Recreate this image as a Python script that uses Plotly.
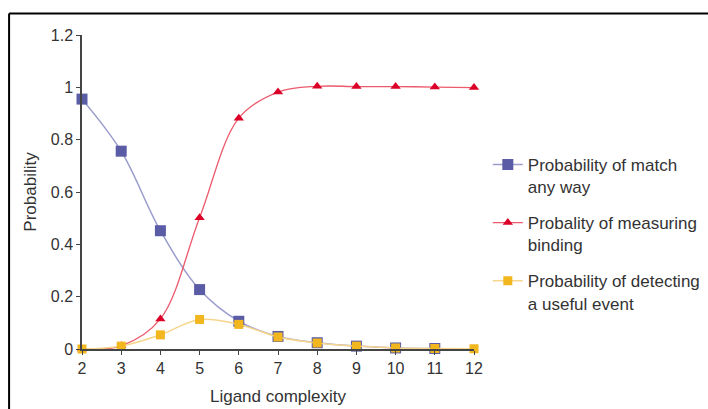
import plotly.graph_objects as go

complexity = [2, 3, 4, 5, 6, 7, 8, 9, 10, 11, 12]
match_x = [2, 3, 4, 5, 6, 7, 8, 9, 10, 11]
match_any_way = [0.955, 0.756, 0.452, 0.227, 0.106, 0.048, 0.024, 0.011, 0.004, 0.002]
measuring_binding = [0.0, 0.012, 0.115, 0.502, 0.882, 0.982, 1.004, 1.003, 1.003, 1.001, 0.999]
useful_event = [0.0, 0.011, 0.054, 0.113, 0.094, 0.046, 0.023, 0.011, 0.004, 0.002, 0.001]
names = ["Probability of match<br>any way", "Probality of measuring<br>binding",
         "Probability of detecting<br>a useful event"]

fig = go.Figure()
fig.add_trace(go.Scatter(
    x=match_x, y=match_any_way, name=names[0], mode="lines+markers", legendgroup="a",
    line=dict(color="#9a9ccc", width=1.5, shape="spline", smoothing=1.0),
    marker=dict(symbol="square", size=11, color="#5a5ca6", line=dict(width=0)),
    cliponaxis=False))
fig.add_trace(go.Scatter(
    x=complexity, y=measuring_binding, name=names[1], mode="lines+markers", legendgroup="b",
    line=dict(color="#ec5a6c", width=1.3, shape="spline", smoothing=1.0),
    marker=dict(symbol="triangle-up", size=9, color="#dc0028", line=dict(width=0)),
    cliponaxis=False))
fig.add_trace(go.Scatter(
    x=complexity, y=useful_event, name=names[2], mode="lines+markers", legendgroup="c",
    line=dict(color="#f6d58c", width=1.5, shape="spline", smoothing=1.0),
    marker=dict(symbol="square", size=9, color="#f2b61e", line=dict(width=0)),
    cliponaxis=False))

fig.update_layout(
    width=708, height=409,
    margin=dict(l=82, r=234, t=34.6, b=60, autoexpand=False),
    paper_bgcolor="white", plot_bgcolor="white",
    font=dict(family="Liberation Sans, Arial, sans-serif", size=16, color="#333333"),
    showlegend=True,
    legend=dict(xref="container", yref="container", x=0.689, xanchor="left",
                y=0.641, yanchor="top", valign="top",
                tracegroupgap=11, font=dict(size=17, color="#333333"),
                bgcolor="rgba(0,0,0,0)"),
    xaxis=dict(range=[2, 12], tickvals=complexity, showgrid=False, zeroline=False,
               automargin=False,
               showline=True, linecolor="#444444", linewidth=1.5,
               ticks="outside", ticklen=4, tickcolor="#444444",
               title=dict(text="Ligand complexity", standoff=14, font=dict(size=17)),
               tickfont=dict(size=16)),
    yaxis=dict(range=[0, 1.2], dtick=0.2, showgrid=False, zeroline=False,
               automargin=False,
               showline=True, linecolor="#444444", linewidth=1.5,
               ticks="outside", ticklen=4, tickcolor="#444444",
               title=dict(text="Probability", standoff=10, font=dict(size=17)),
               tickfont=dict(size=16)),
    shapes=[
        dict(type="line", xref="paper", yref="paper", x0=-0.186, x1=1.61,
             y0=1.0687, y1=1.0687, line=dict(color="black", width=2)),
        dict(type="line", xref="paper", yref="paper", x0=-0.186, x1=-0.186,
             y0=1.0687, y1=-0.2, line=dict(color="black", width=2)),
    ],
)

fig.write_html("out.html")
